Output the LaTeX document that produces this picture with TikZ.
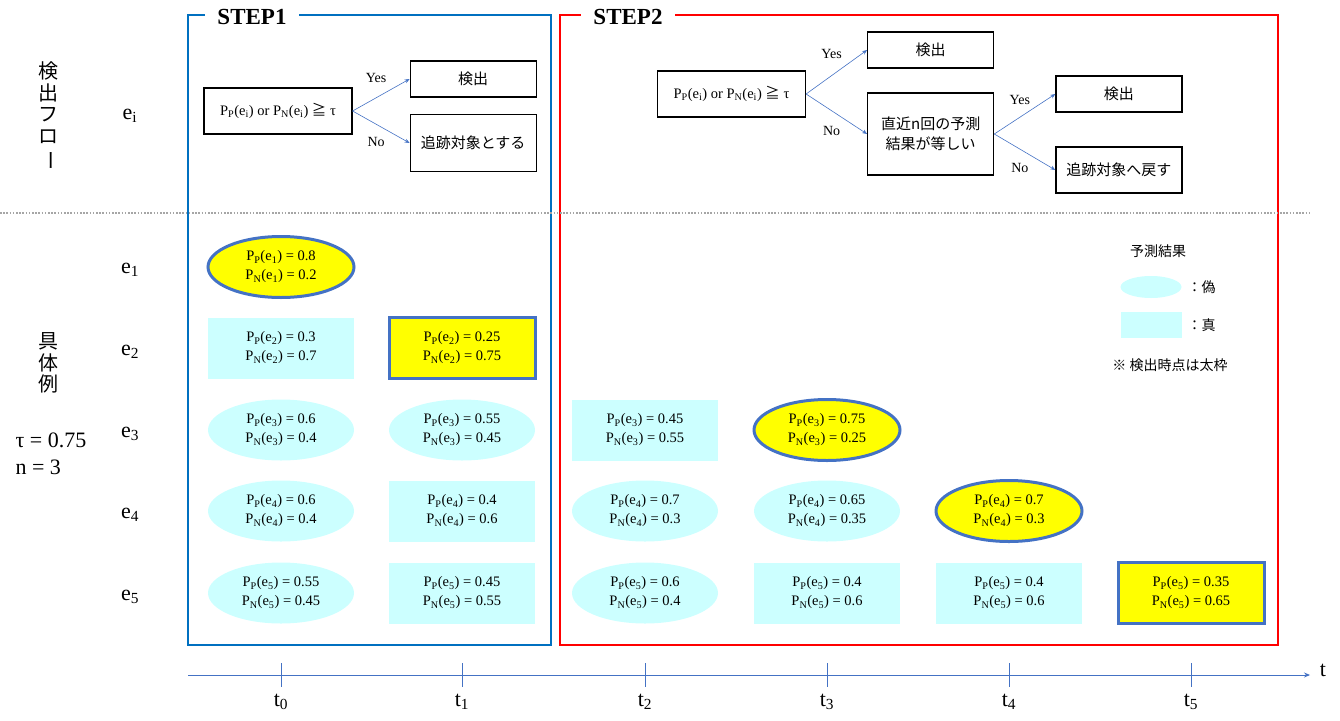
\documentclass[tikz,border=0pt]{standalone}
\usepackage{fontspec}
\setmainfont{Liberation Serif}
\newfontfamily\jp{Noto Sans CJK JP}
\usepackage{graphicx}
\usetikzlibrary{arrows.meta,positioning,shapes.geometric}
\definecolor{stepBlue}{HTML}{0070C0}
\definecolor{stepRed}{HTML}{FF0000}
\definecolor{lineBlue}{HTML}{4472C4}
\definecolor{cellCyan}{HTML}{CCFFFF}
\definecolor{hitYellow}{HTML}{FFFF00}
\definecolor{sepGray}{HTML}{A6A6A6}
\newcommand{\probs}[3]{P\textsubscript{P}(e\textsubscript{#1}) = #2\\P\textsubscript{N}(e\textsubscript{#1}) = #3}
\newcommand{\condtext}{P\textsubscript{P}(e\textsubscript{i}) or P\textsubscript{N}(e\textsubscript{i}) {\jp ≧} τ}

\begin{document}
\begin{tikzpicture}[
  x=1pt, y=-1pt,
  stepframe/.style={line width=1.6pt},
  steptitle/.style={fill=white, inner xsep=12pt, font=\fontsize{23}{26}\selectfont\bfseries},
  cond/.style={draw, line width=1.2pt, minimum width=148pt, minimum height=46pt, font=\fontsize{14.5}{16}\selectfont},
  flowbox/.style={draw, line width=1.2pt, minimum width=126pt, minimum height=36pt, align=center, font=\fontsize{15}{20}\selectfont\jp},
  arr/.style={-{Stealth[length=5pt,width=4pt]}, lineBlue, line width=0.6pt},
  ans/.style={text=black, font=\fontsize{14}{16}\selectfont},
  falsecell/.style={ellipse, fill=cellCyan, minimum width=146pt, minimum height=61pt, inner sep=0pt, align=center, font=\fontsize{14.5}{19}\selectfont},
  truecell/.style={rectangle, fill=cellCyan, minimum width=146pt, minimum height=61pt, inner sep=0pt, align=center, font=\fontsize{14.5}{19}\selectfont},
  hit/.style={fill=hitYellow, draw=lineBlue, line width=3pt},
  rowlabel/.style={font=\fontsize{22}{24}\selectfont},
  vlabel/.style={align=center, inner sep=0pt, font=\fontsize{20}{21.5}\selectfont\jp},
  legend/.style={font=\fontsize{14}{16}\selectfont\jp},
  timeaxis/.style={-{Stealth[length=6pt,width=5pt]}, lineBlue, line width=0.9pt}
]
\useasboundingbox (0,0) rectangle (1340,720);

% Step frames
\draw[stepframe, stepBlue] (188,15) rectangle (551,645);
\draw[stepframe, stepRed] (560,15) rectangle (1278,645);
\node[steptitle] (step1) at (252,17) {STEP1};
\node[steptitle] (step2) at (628,17) {STEP2};

% Separator
\coordinate (sepL) at (0,213);
\coordinate (sepR) at (1310,213);
\draw[sepGray, line width=1.8pt, dash pattern=on 1.6pt off 1.6pt] (sepL) -- (sepR);

% Left labels
\node[vlabel] (flowlab) at (48,116) {検\\出\\フ\\ロ\\\rotatebox[origin=c]{-90}{ー}};
\node[vlabel] (exlab) at (48,363) {具\\体\\例};
\node[rowlabel, anchor=west] (tau) at (12,440) {τ = 0.75};
\node[rowlabel, anchor=west] (nval) at (12,467) {n = 3};
\node[rowlabel] (ei) at (130,116) {e\textsubscript{i}};
\node[rowlabel] (lab1) at (130,270) {e\textsubscript{1}};
\node[rowlabel] (lab2) at (130,352) {e\textsubscript{2}};
\node[rowlabel] (lab3) at (130,434) {e\textsubscript{3}};
\node[rowlabel] (lab4) at (130,515) {e\textsubscript{4}};
\node[rowlabel] (lab5) at (130,597) {e\textsubscript{5}};

% Flow of step 1
\node[cond] (c1) at (278,111) {\condtext};
\node[flowbox, right=57pt of c1, yshift=32pt] (det1) {検出};
\node[flowbox, right=57pt of c1, yshift=-32pt, minimum height=57pt] (trk1) {追跡対象とする};
\draw[arr] (c1.east) -- node[ans, midway, above=9pt, xshift=-5pt] {Yes} (det1.west);
\draw[arr] (c1.east) -- node[ans, midway, below=7pt, xshift=-5pt] {No} (trk1.west);

% Flow of step 2
\node[cond] (c2) at (731.5,94) {\condtext};
\node[flowbox, right=61pt of c2, yshift=44pt] (det2) {検出};
\node[flowbox, right=61pt of c2, yshift=-40pt, minimum height=82pt] (same2) {直近n回の予測\\結果が等しい};
\node[flowbox, right=61pt of same2, yshift=40pt] (det3) {検出};
\node[flowbox, right=61pt of same2, yshift=-36pt, minimum height=46pt] (back2) {追跡対象へ戻す};
\draw[arr] (c2.east) -- node[ans, midway, above=10pt, xshift=-5pt] {Yes} (det2.west);
\draw[arr] (c2.east) -- node[ans, midway, below=9pt, xshift=-5pt] {No} (same2.west);
\draw[arr] (same2.east) -- node[ans, midway, above=6pt, xshift=-5pt] {Yes} (det3.west);
\draw[arr] (same2.east) -- node[ans, midway, below=8pt, xshift=-5pt] {No} (back2.west);

% Predictions, row e1
\node[falsecell, hit] (e1t0) at (281,267) {\probs{1}{0.8}{0.2}};
% row e2
\node[truecell] (e2t0) at (281,348) {\probs{2}{0.3}{0.7}};
\node[truecell, hit] (e2t1) at (462,348) {\probs{2}{0.25}{0.75}};
% row e3
\node[falsecell] (e3t0) at (281,430) {\probs{3}{0.6}{0.4}};
\node[falsecell] (e3t1) at (462,430) {\probs{3}{0.55}{0.45}};
\node[truecell] (e3t2) at (645,430) {\probs{3}{0.45}{0.55}};
\node[falsecell, hit] (e3t3) at (827,430) {\probs{3}{0.75}{0.25}};
% row e4
\node[falsecell] (e4t0) at (281,511) {\probs{4}{0.6}{0.4}};
\node[truecell] (e4t1) at (462,511) {\probs{4}{0.4}{0.6}};
\node[falsecell] (e4t2) at (645,511) {\probs{4}{0.7}{0.3}};
\node[falsecell] (e4t3) at (827,511) {\probs{4}{0.65}{0.35}};
\node[falsecell, hit] (e4t4) at (1009,511) {\probs{4}{0.7}{0.3}};
% row e5
\node[falsecell] (e5t0) at (281,593) {\probs{5}{0.55}{0.45}};
\node[truecell] (e5t1) at (462,593) {\probs{5}{0.45}{0.55}};
\node[falsecell] (e5t2) at (645,593) {\probs{5}{0.6}{0.4}};
\node[truecell] (e5t3) at (827,593) {\probs{5}{0.4}{0.6}};
\node[truecell] (e5t4) at (1009,593) {\probs{5}{0.4}{0.6}};
\node[truecell, hit] (e5t5) at (1191,593) {\probs{5}{0.35}{0.65}};

% Legend
\node[legend] (leghead) at (1158,251) {予測結果};
\node[ellipse, fill=cellCyan, minimum width=61pt, minimum height=22pt, inner sep=0pt] (legF) at (1151,287) {};
\node[legend, anchor=west] (legFtxt) at (1184,287) {：偽};
\node[fill=cellCyan, minimum width=61pt, minimum height=26pt, inner sep=0pt] (legT) at (1151,325) {};
\node[legend, anchor=west] (legTtxt) at (1184,325) {：真};
\node[legend] (legnote) at (1170,365) {※ 検出時点は太枠};

% Time axis
\coordinate (tstart) at (188,675);
\coordinate (tend) at (1310,675);
\draw[timeaxis] (tstart) -- (tend);
\node[rowlabel] (tlab) at (1323,670) {t};
\foreach \i/\x in {0/281,1/462,2/645,3/827,4/1009,5/1191} {
  \draw[lineBlue, line width=0.9pt] (\x,663) -- (\x,687);
  \node[rowlabel] (t\i) at (\x,702) {t\textsubscript{\i}};
}
\end{tikzpicture}
\end{document}
